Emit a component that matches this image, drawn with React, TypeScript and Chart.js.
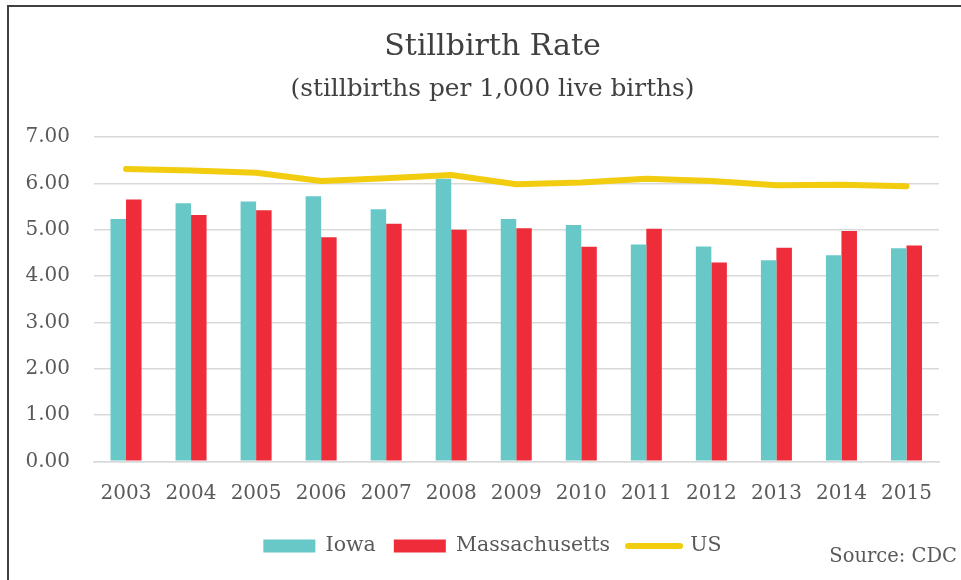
import React, { useEffect, useRef } from "react";
import { Chart, registerables } from "chart.js";

Chart.register(...registerables);

const years = ["2003", "2004", "2005", "2006", "2007", "2008", "2009", "2010", "2011", "2012", "2013", "2014", "2015"];
const iowa = [5.23, 5.57, 5.61, 5.72, 5.44, 6.1, 5.23, 5.1, 4.68, 4.64, 4.34, 4.45, 4.6];
const massachusetts = [5.65, 5.32, 5.42, 4.84, 5.13, 5.0, 5.03, 4.63, 5.02, 4.29, 4.61, 4.97, 4.66];
const us = [6.31, 6.28, 6.23, 6.05, 6.11, 6.18, 5.98, 6.02, 6.1, 6.05, 5.96, 5.97, 5.94];

const titleText = "Stillbirth Rate";
const subtitleText = "(stillbirths per 1,000 live births)";
const sourceText = "Source: CDC";

const FONT = "'DejaVu Serif', serif";
const TEXT = "#595959";

const framePlugin = {
  id: "frame",
  beforeDraw(chart: any) {
    const ctx = chart.ctx;
    ctx.save();
    ctx.fillStyle = "#ffffff";
    ctx.fillRect(0, 0, chart.width, chart.height);
    ctx.strokeStyle = "#404040";
    ctx.lineWidth = 2;
    ctx.beginPath();
    ctx.moveTo(8, chart.height);
    ctx.lineTo(8, 6);
    ctx.lineTo(chart.width, 6);
    ctx.stroke();
    ctx.restore();
  },
  afterDraw(chart: any) {
    const ctx = chart.ctx;
    ctx.save();
    ctx.font = `19.5px ${FONT}`;
    ctx.fillStyle = TEXT;
    ctx.textAlign = "right";
    ctx.textBaseline = "middle";
    ctx.fillText(sourceText, 957, 557);
    ctx.restore();
  },
};

export default function App() {
  const ref = useRef<HTMLCanvasElement | null>(null);
  useEffect(() => {
    document.body.style.margin = "0";
    const canvas = ref.current!;
    const chart = new Chart(canvas, {
      type: "bar",
      data: {
        labels: years,
        datasets: [
          {
            type: "bar",
            label: "Iowa",
            data: iowa,
            backgroundColor: "#68C8C7",
            borderWidth: 0,
            order: 0,
            categoryPercentage: 0.477,
            barPercentage: 1,
          },
          {
            type: "bar",
            label: "Massachusetts",
            data: massachusetts,
            backgroundColor: "#EF2D3A",
            borderWidth: 0,
            order: 0,
            categoryPercentage: 0.477,
            barPercentage: 1,
          },
          {
            type: "line",
            label: "US",
            data: us,
            borderColor: "#F2CC0F",
            backgroundColor: "#F2CC0F",
            borderWidth: 6,
            borderCapStyle: "round",
            borderJoinStyle: "round",
            pointRadius: 0,
            tension: 0,
            order: -1,
          },
        ] as any,
      },
      options: {
        responsive: false,
        animation: false,
        devicePixelRatio: 1,
        layout: { padding: { left: 24, right: 0, top: 0, bottom: 13.75 } },
        plugins: {
          title: {
            display: true,
            text: titleText,
            color: "#404040",
            font: { family: FONT, size: 30, weight: "normal" },
            padding: { top: 29.5, bottom: 0 },
          },
          subtitle: {
            display: true,
            text: subtitleText,
            color: "#404040",
            font: { family: FONT, size: 24.8, weight: "normal" },
            padding: { top: 9, bottom: 32.8 },
          },
          legend: {
            display: true,
            position: "bottom",
            labels: {
              usePointStyle: true,
              pointStyleWidth: 52,
              boxHeight: 13,
              padding: 18,
              color: TEXT,
              font: { family: FONT, size: 20.5 },
              sort: (a: any, b: any) => a.datasetIndex - b.datasetIndex,
              generateLabels: (chart: any) => {
                const items = Chart.defaults.plugins.legend.labels.generateLabels(chart);
                return items.map((it: any) => {
                  const ds = chart.data.datasets[it.datasetIndex];
                  if (ds.type === "line") {
                    return { ...it, pointStyle: "line", lineCap: "round", lineWidth: 6, strokeStyle: ds.borderColor };
                  }
                  return { ...it, pointStyle: "rect", lineWidth: 0 };
                });
              },
            },
          },
          tooltip: { enabled: false },
        },
        scales: {
          x: {
            grid: { display: false, drawTicks: false },
            border: { display: true, color: "#d9d9d9", width: 1.5 },
            ticks: { color: TEXT, font: { family: FONT, size: 20 }, padding: 20, maxRotation: 0 },
            afterFit: (s: any) => {
              s.height = 56.4;
            },
          },
          y: {
            min: 0,
            max: 7,
            grid: { color: "#d9d9d9", lineWidth: 1.5, drawTicks: false },
            border: { display: false },
            ticks: {
              stepSize: 1,
              color: TEXT,
              font: { family: FONT, size: 20 },
              padding: 23.5,
              callback: (v: any) => Number(v).toFixed(2),
            },
            afterFit: (s: any) => {
              s.width = 69.5;
            },
          },
          ySpacer: {
            type: "linear",
            position: "right",
            display: true,
            grid: { display: false, drawTicks: false },
            border: { display: false },
            ticks: { display: false },
            afterFit: (s: any) => {
              s.width = 22;
            },
          },
        },
      } as any,
      plugins: [framePlugin],
    });
    return () => chart.destroy();
  }, []);
  return (
    <div style={{ width: 961, height: 580 }}>
      <canvas ref={ref} width={961} height={580} style={{ width: 961, height: 580, display: "block" }} />
    </div>
  );
}
